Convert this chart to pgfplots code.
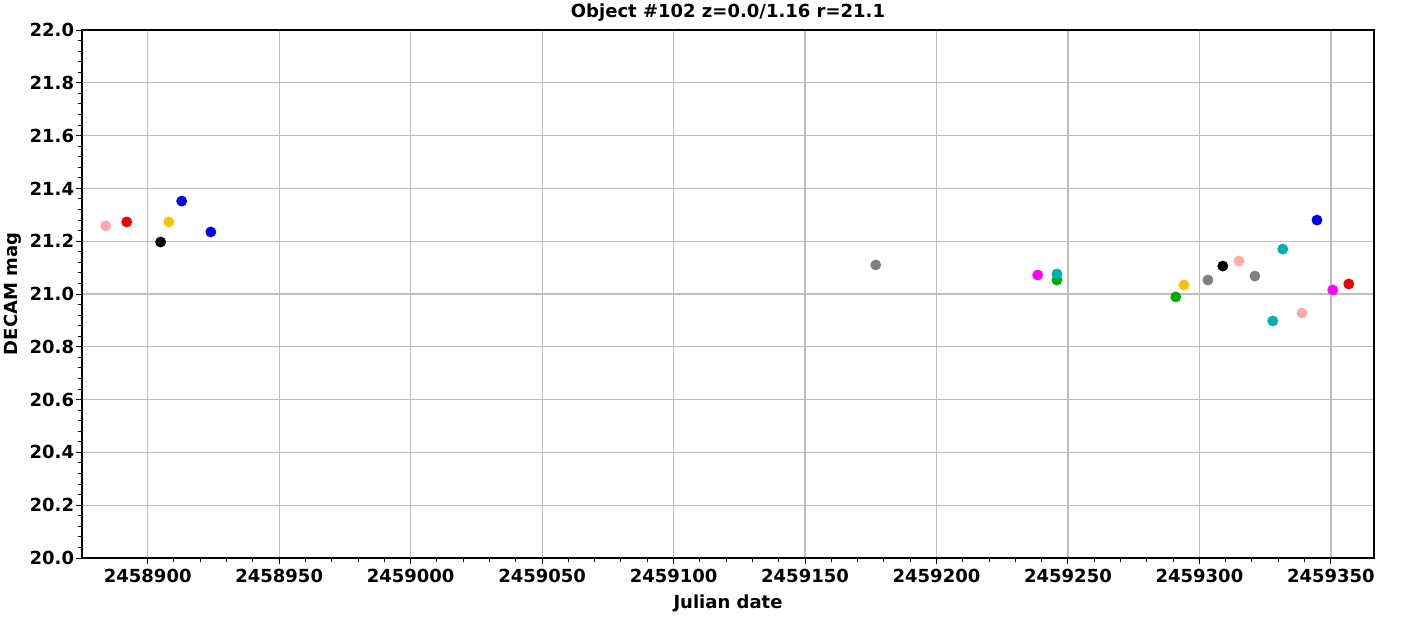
\documentclass[border=0pt]{standalone}
\usepackage{pgfplots}
\pgfplotsset{compat=1.18}
\usepackage{fontspec}
\setmainfont{DejaVu Sans}
\definecolor{cpink}{HTML}{FFAAAA}
\definecolor{cred}{HTML}{EE0000}
\definecolor{cblack}{HTML}{000000}
\definecolor{corange}{HTML}{FFC000}
\definecolor{cblue}{HTML}{0000EE}
\definecolor{cgray}{HTML}{808080}
\definecolor{cmag}{HTML}{FF00FF}
\definecolor{ccyan}{HTML}{00AFAF}
\definecolor{cgreen}{HTML}{00AA00}
\definecolor{cgrid}{HTML}{BEBEBE}
\begin{document}
\begin{tikzpicture}
\useasboundingbox (-41pt,-29.5pt) rectangle (670pt,279pt);
\begin{axis}[
  at={(0,0)}, anchor=south west,
  scale only axis, width=646pt, height=264pt,
  xmin=2458875, xmax=2459366.4, ymin=20, ymax=22,
  xtick={2458900,2458950,2459000,2459050,2459100,2459150,2459200,2459250,2459300,2459350},
  ytick={20,20.2,20.4,20.6,20.8,21,21.2,21.4,21.6,21.8,22},
  scaled x ticks=false, scaled y ticks=false,
  minor x tick num=4, minor y tick num=4,
  xtick pos=bottom, ytick pos=left,
  tick align=outside,
  major tick length=3pt, minor tick length=2pt,
  every tick/.style={black, line width=0.5pt},
  grid=major,
  major grid style={cgrid, line width=0.6pt},
  axis line style={black, line width=0.6pt},
  /pgf/number format/assume math mode=true,
  x tick label style={/pgf/number format/fixed, /pgf/number format/1000 sep={}, /pgf/number format/precision=0, yshift=1pt},
  y tick label style={/pgf/number format/fixed, /pgf/number format/fixed zerofill, /pgf/number format/precision=1, xshift=2.5pt},
  tick label style={font=\bfseries\fontsize{9}{10}\selectfont},
  label style={font=\bfseries\fontsize{9}{10}\selectfont},
  every axis title shift=0pt,
  title style={font=\bfseries\fontsize{9}{10}\selectfont, at={(axis description cs:0.5,1)}, anchor=center, yshift=8.5pt},
  title={Object \#102 z=0.0/1.16 r=21.1},
  xlabel={Julian date},
  ylabel={DECAM mag},
  xlabel style={at={(axis description cs:0.5,-0.087)}, anchor=center},
  ylabel style={at={(axis description cs:-0.0534,0.5)}, anchor=center, rotate=0},
  every axis plot/.append style={only marks, mark=*, mark size=2.5pt},
]
\addplot[color=cpink, mark options={fill=cpink, draw=cpink}] coordinates {
(2458884.0,21.258) (2459315.0,21.125) (2459339.0,20.928)};
\addplot[color=cred, mark options={fill=cred, draw=cred}] coordinates {
(2458892.0,21.273) (2459356.8,21.038)};
\addplot[color=cblack, mark options={fill=cblack, draw=cblack}] coordinates {
(2458904.9,21.197) (2459308.9,21.106)};
\addplot[color=corange, mark options={fill=corange, draw=corange}] coordinates {
(2458908.0,21.273) (2459294.1,21.034)};
\addplot[color=cblue, mark options={fill=cblue, draw=cblue}] coordinates {
(2458912.9,21.352) (2458924.0,21.235) (2459344.7,21.280)};
\addplot[color=cgray, mark options={fill=cgray, draw=cgray}] coordinates {
(2459176.9,21.110) (2459303.2,21.053) (2459321.1,21.068)};
\addplot[color=cmag, mark options={fill=cmag, draw=cmag}] coordinates {
(2459238.5,21.072) (2459350.7,21.015)};
\addplot[color=cgreen, mark options={fill=cgreen, draw=cgreen}] coordinates {
(2459245.8,21.053) (2459291.0,20.989)};
\addplot[color=ccyan, mark options={fill=ccyan, draw=ccyan}] coordinates {
(2459245.8,21.076) (2459327.9,20.898) (2459331.7,21.170)};
\end{axis}
\end{tikzpicture}
\end{document}
